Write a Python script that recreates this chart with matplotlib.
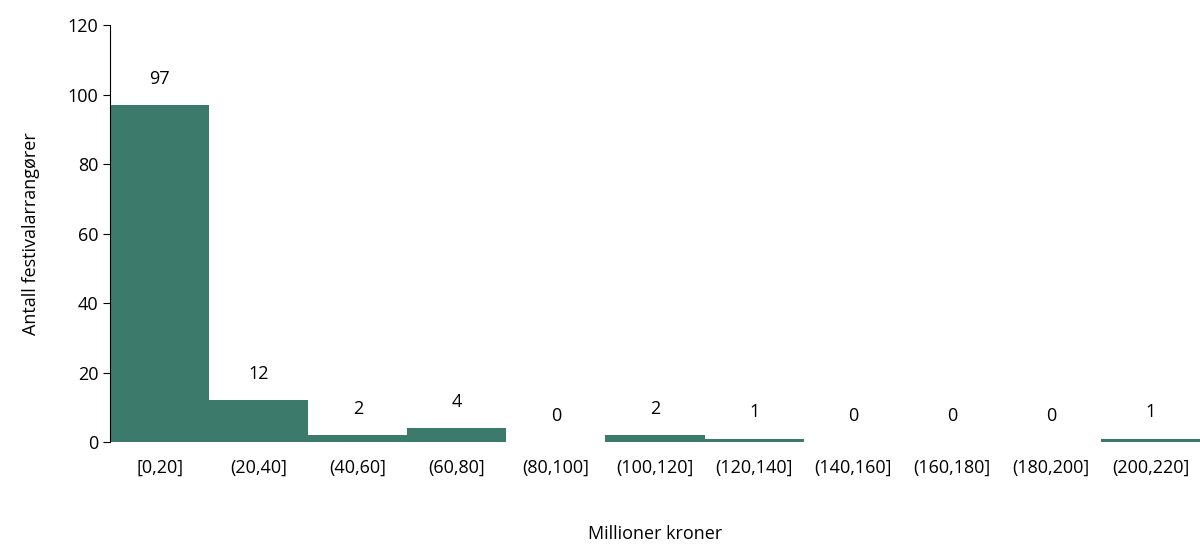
import matplotlib
matplotlib.use("Agg")
import matplotlib.pyplot as plt

categories = ["[0,20]", "(20,40]", "(40,60]", "(60,80]", "(80,100]", "(100,120]",
              "(120,140]", "(140,160]", "(160,180]", "(180,200]", "(200,220]"]
values = [97, 12, 2, 4, 0, 2, 1, 0, 0, 0, 1]

plt.rcParams['font.family'] = ['Open Sans', 'DejaVu Sans']
fig = plt.figure(figsize=(12, 5.59), dpi=100)
ax = fig.add_axes([0.0917, 0.209, 0.9083, 0.746])
x = range(len(categories))
ax.bar(x, values, width=1.0, color="#3c7a6c")
for xi, v in zip(x, values):
    ax.text(xi, v + 5, str(v), ha="center", va="bottom", fontsize=13)
ax.set_xlim(-0.5, len(categories) - 0.5)
ax.set_ylim(0, 120)
ax.set_yticks(range(0, 121, 20))
ax.set_xticks(list(x))
ax.set_xticklabels(categories)
ax.tick_params(labelsize=13, length=0)
ax.tick_params(axis='x', pad=12)
ax.tick_params(axis='y', length=5, direction='out')
for s in ["top", "right", "bottom"]:
    ax.spines[s].set_visible(False)
ax.set_ylabel("Antall festivalarrangører", fontsize=13, labelpad=20)
ax.set_xlabel("Millioner kroner", fontsize=13, labelpad=35)
fig.savefig("out.png")
